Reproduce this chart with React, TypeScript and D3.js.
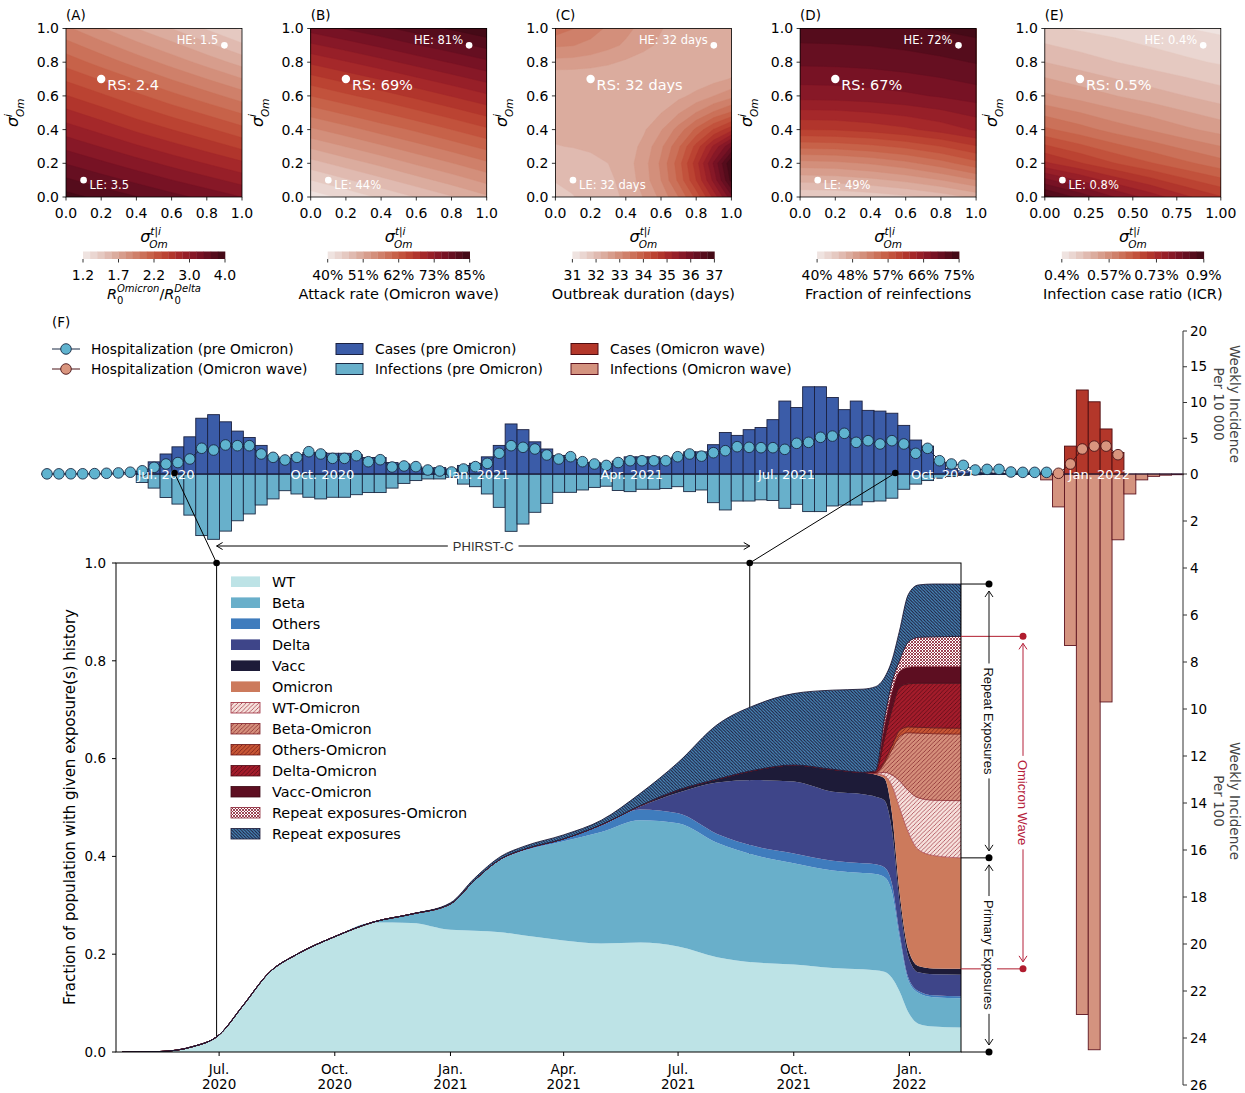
import React, { useEffect, useRef } from 'react';
import * as d3 from 'd3';

const W = 1245;
const H = 1093;
const FONT = "'DejaVu Sans', Verdana, sans-serif";
const ANNOT_FONT = "'Liberation Sans', Arial, sans-serif";

// ---------------- (A)-(E) sensitivity surfaces ----------------
// rows: sigma^i_Om = 1.0 (top) -> 0.0 (bottom); columns: sigma^{t|i}_Om = 0 -> 1
const gridR0 = [
  [1.92, 1.81, 1.70, 1.60, 1.49, 1.38],
  [2.16, 2.06, 1.96, 1.86, 1.76, 1.66],
  [2.53, 2.39, 2.24, 2.13, 2.04, 1.95],
  [2.92, 2.79, 2.65, 2.52, 2.39, 2.25],
  [3.39, 3.24, 3.09, 2.95, 2.83, 2.71],
  [3.88, 3.74, 3.61, 3.47, 3.34, 3.20],
];
const gridAttack = [
  [76.4, 78.0, 79.6, 81.3, 82.9, 84.5],
  [69.0, 70.6, 72.2, 73.9, 75.6, 77.3],
  [62.0, 63.7, 65.3, 67.0, 68.7, 70.4],
  [55.0, 56.7, 58.5, 60.2, 62.0, 63.8],
  [47.9, 49.8, 51.6, 53.5, 55.3, 57.2],
  [40.9, 42.8, 44.8, 46.7, 48.6, 50.6],
];
// finer sampling (step 0.1) because this surface is strongly curved
const gridDuration = [
  [33.58, 33.41, 33.23, 33.05, 32.88, 32.70, 32.52, 32.35, 32.26, 32.26, 32.26],
  [33.14, 33.11, 33.02, 32.89, 32.75, 32.60, 32.43, 32.27, 32.26, 32.26, 32.26],
  [32.70, 32.68, 32.63, 32.55, 32.45, 32.34, 32.26, 32.26, 32.26, 32.26, 32.30],
  [32.26, 32.26, 32.26, 32.26, 32.26, 32.26, 32.26, 32.27, 32.30, 32.40, 32.52],
  [32.26, 32.26, 32.26, 32.26, 32.26, 32.26, 32.30, 32.42, 32.59, 32.80, 33.00],
  [32.26, 32.26, 32.26, 32.26, 32.26, 32.31, 32.49, 32.77, 33.11, 33.45, 33.75],
  [32.26, 32.26, 32.26, 32.26, 32.28, 32.45, 32.77, 33.22, 33.77, 34.32, 34.80],
  [32.19, 32.21, 32.24, 32.26, 32.33, 32.58, 33.03, 33.64, 34.41, 35.27, 36.10],
  [32.06, 32.07, 32.13, 32.20, 32.36, 32.66, 33.16, 33.86, 34.76, 35.85, 37.00],
  [31.92, 31.95, 32.03, 32.13, 32.31, 32.63, 33.10, 33.77, 34.60, 35.60, 36.80],
  [31.78, 31.89, 32.00, 32.10, 32.25, 32.51, 32.88, 33.40, 34.10, 35.00, 36.00],
];
const gridReinf = [
  [72.48, 72.55, 72.70, 72.98, 73.38, 73.85],
  [69.96, 70.03, 70.21, 70.54, 70.97, 71.51],
  [66.72, 66.79, 67.04, 67.44, 67.98, 68.66],
  [60.60, 60.74, 61.25, 62.04, 63.12, 64.45],
  [50.88, 51.10, 51.78, 52.86, 54.41, 56.39],
  [43.20, 43.33, 43.78, 44.48, 45.44, 46.82],
];
const gridIcr = [
  [0.456, 0.448, 0.441, 0.433, 0.426, 0.420],
  [0.502, 0.489, 0.477, 0.466, 0.456, 0.448],
  [0.558, 0.543, 0.528, 0.515, 0.502, 0.489],
  [0.631, 0.612, 0.592, 0.576, 0.558, 0.543],
  [0.727, 0.700, 0.674, 0.652, 0.631, 0.612],
  [0.885, 0.841, 0.797, 0.762, 0.727, 0.700],
];

const cbTicksR0 = [1.2, 1.7, 2.2, 3.0, 4.0];
const cbLabelsR0 = ['1.2', '1.7', '2.2', '3.0', '4.0'];
const cbTicksAttack = [40, 51, 62, 73, 85];
const cbTicksDuration = [31, 32, 33, 34, 35, 36, 37];
const cbTicksReinf = [40, 48, 57, 66, 75];
const cbTicksIcr = [0.4, 0.57, 0.73, 0.9];

const scenarioNames = ['LE', 'RS', 'HE'];
const scenarioPoints = [[0.1, 0.1], [0.2, 0.7], [0.9, 0.9]];
const scenarioR0 = ['3.5', '2.4', '1.5'];
const scenarioAttack = ['44%', '69%', '81%'];
const scenarioDuration = ['32 days', '32 days', '32 days'];
const scenarioReinf = ['49%', '67%', '72%'];
const scenarioIcr = ['0.8%', '0.5%', '0.4%'];

const ampStops = ['#f1e9e7', '#e7d0ca', '#ddb3a7', '#d59683', '#cd7861', '#c55a41',
  '#b73b2d', '#9f2229', '#7f1426', '#5d0d1f', '#3d0914'];

// ---------------- (F) weekly incidence ----------------
const weekZero = '2020-04-22';
const hospPreFirstWeek = 0;
const hospPre = [
  0.02, 0.02, 0.03, 0.03, 0.05, 0.1, 0.15, 0.25, 0.45, 0.93,
  1.4, 1.6, 2.1, 3.6, 3.35, 4.06, 3.96, 3.96, 2.8, 2.33,
  1.96, 2.33, 3.12, 2.8, 2.19, 2.19, 2.56, 1.72, 2.0, 0.98,
  1.12, 1.03, 0.56, 0.42, 0.28, 0.7, 1.03, 1.49, 2.9, 3.96,
  3.73, 3.5, 2.66, 2.1, 2.42, 1.72, 1.4, 1.2, 1.6, 1.86,
  1.86, 1.86, 1.86, 2.42, 2.8, 2.5, 2.98, 3.26, 3.82, 3.73,
  3.68, 3.68, 3.45, 4.29, 4.43, 5.13, 5.3, 5.69, 4.43, 4.66,
  4.2, 4.66, 4.2, 2.89, 3.59, 1.86, 1.4, 1.21, 0.56, 0.65,
  0.65, 0.28, 0.23, 0.23, 0.23,
];
const preFirstWeek = 8;
const casesPre = [
  0.4, 1.7, 2.8, 3.8, 5.2, 7.8, 8.3, 7.3, 6.0, 5.1,
  4.0, 2.4, 2.1, 2.7, 3.0, 3.0, 2.9, 2.9, 2.7, 2.3,
  2.3, 1.6, 1.4, 1.0, 0.8, 0.9, 0.7, 1.2, 1.5, 2.4,
  4.0, 7.0, 6.2, 4.5, 3.5, 2.6, 2.1, 1.6, 1.6, 1.4,
  1.8, 2.4, 2.4, 2.4, 2.2, 2.4, 3.1, 3.1, 4.1, 5.8,
  5.4, 6.2, 6.5, 7.6, 10.2, 9.3, 12.2, 12.2, 10.7, 9.0,
  10.2, 8.9, 8.8, 8.5, 6.8, 4.75, 3.9, 1.6, 0.8, 0.45,
  0.28, 0.15, 0.1, 0.08, 0.06, 0.05,
];
const infectionsPre = [
  0.36, 0.6, 1.0, 1.28, 1.75, 2.62, 2.78, 2.43, 1.99, 1.7,
  1.32, 1.06, 0.71, 0.85, 0.99, 1.06, 0.99, 0.99, 0.88, 0.79,
  0.79, 0.6, 0.4, 0.28, 0.21, 0.21, 0.14, 0.43, 0.54, 0.85,
  1.42, 2.44, 2.13, 1.63, 1.25, 0.78, 0.78, 0.68, 0.57, 0.52,
  0.7, 0.75, 0.65, 0.65, 0.62, 0.54, 0.75, 0.68, 1.22, 1.53,
  1.15, 1.15, 1.1, 1.13, 1.46, 1.29, 1.6, 1.6, 1.36, 1.32,
  1.32, 1.18, 1.15, 1.03, 0.65, 0.43, 0.28, 0.18, 0.11, 0.06,
  0.03, 0.02, 0.02, 0.01, 0.01, 0.01,
];
const hospOmiFirstWeek = 85;
const hospOmi = [0.1, 1.4, 3.5, 3.9, 3.9, 2.7];
const casesOmiFirstWeek = 86;
const casesOmi = [3.9, 11.75, 10.1, 6.3, 3.0];
const infOmiFirstWeek = 84;
const infectionsOmi = [0.25, 1.4, 7.3, 23.0, 24.5, 9.7, 2.8, 0.85, 0.25, 0.1, 0.05, 0.03];

const incidenceTicksUp = [0, 5, 10, 15, 20];
const incidenceTicksDown = [2, 4, 6, 8, 10, 12, 14, 16, 18, 20, 22, 24, 26];
const quarterTicks = ['2020-07-01', '2020-10-01', '2021-01-01', '2021-04-01', '2021-07-01', '2021-10-01', '2022-01-01'];
const phirstWindow = ['2020-06-29', '2021-08-27'];

// ---------------- (F) exposure history (fraction of population) ----------------
const exposureDates = [
  '2020-04-15', '2020-05-15', '2020-06-10', '2020-07-01', '2020-07-20', '2020-08-10', '2020-09-01', '2020-10-01', '2020-11-01', '2020-12-01',
  '2021-01-01', '2021-01-20', '2021-02-10', '2021-03-01', '2021-04-01', '2021-05-01', '2021-06-01', '2021-07-01', '2021-08-01', '2021-09-01',
  '2021-10-01', '2021-11-01', '2021-11-25', '2021-12-05', '2021-12-12', '2021-12-18', '2021-12-24', '2021-12-31', '2022-01-08', '2022-01-20', '2022-02-11',
];
const expWT = [0, 0.001, 0.011, 0.035, 0.095, 0.163, 0.2, 0.236, 0.265, 0.264,
  0.25, 0.248, 0.245, 0.238, 0.228, 0.222, 0.224, 0.216, 0.194, 0.183,
  0.179, 0.172, 0.169, 0.167, 0.164, 0.152, 0.125, 0.082, 0.058, 0.052, 0.05];
const expBeta = [0, 0, 0, 0, 0, 0, 0, 0, 0.001, 0.017,
  0.052, 0.102, 0.148, 0.174, 0.203, 0.228, 0.25, 0.252, 0.234, 0.219,
  0.207, 0.199, 0.197, 0.197, 0.194, 0.176, 0.11, 0.065, 0.063, 0.06, 0.06];
const expOthers = [0, 0, 0, 0, 0, 0, 0, 0, 0, 0.001,
  0.001, 0.001, 0.002, 0.003, 0.005, 0.013, 0.022, 0.02, 0.018, 0.018,
  0.02, 0.02, 0.02, 0.02, 0.02, 0.017, 0.01, 0.006, 0.004, 0.004, 0.004];
const expDelta = [0, 0, 0, 0, 0, 0, 0, 0, 0, 0,
  0, 0, 0, 0, 0, 0.002, 0.006, 0.042, 0.105, 0.136,
  0.147, 0.141, 0.141, 0.138, 0.137, 0.11, 0.065, 0.043, 0.038, 0.043, 0.044];
const expVacc = [0, 0, 0, 0, 0, 0, 0, 0, 0, 0,
  0, 0, 0, 0, 0, 0, 0.002, 0.006, 0.007, 0.021,
  0.034, 0.046, 0.045, 0.045, 0.045, 0.035, 0.02, 0.014, 0.013, 0.012, 0.012];
const expOmicron = [0, 0, 0, 0, 0, 0, 0, 0, 0, 0,
  0, 0, 0, 0, 0, 0, 0, 0, 0, 0,
  0, 0, 0, 0.002, 0.005, 0.055, 0.17, 0.24, 0.238, 0.231, 0.227];
const expWTOm = [0, 0, 0, 0, 0, 0, 0, 0, 0, 0,
  0, 0, 0, 0, 0, 0, 0, 0, 0, 0,
  0, 0, 0, 0.001, 0.007, 0.022, 0.055, 0.085, 0.106, 0.113, 0.117];
const expBetaOm = [0, 0, 0, 0, 0, 0, 0, 0, 0, 0,
  0, 0, 0, 0, 0, 0, 0, 0, 0, 0,
  0, 0, 0, 0.001, 0.018, 0.051, 0.09, 0.118, 0.132, 0.136, 0.136];
const expOthersOm = [0, 0, 0, 0, 0, 0, 0, 0, 0, 0,
  0, 0, 0, 0, 0, 0, 0, 0, 0, 0,
  0, 0, 0, 0.001, 0.004, 0.008, 0.012, 0.012, 0.012, 0.012, 0.012];
const expDeltaOm = [0, 0, 0, 0, 0, 0, 0, 0, 0, 0,
  0, 0, 0, 0, 0, 0, 0, 0, 0, 0,
  0, 0, 0, 0.001, 0.046, 0.074, 0.088, 0.088, 0.09, 0.091, 0.092];
const expVaccOm = [0, 0, 0, 0, 0, 0, 0, 0, 0, 0,
  0, 0, 0, 0, 0, 0, 0, 0, 0, 0,
  0, 0, 0, 0.001, 0.025, 0.035, 0.033, 0.034, 0.034, 0.034, 0.034];
const expRepeatOm = [0, 0, 0, 0, 0, 0, 0, 0, 0, 0,
  0, 0, 0, 0, 0, 0, 0, 0, 0, 0,
  0, 0, 0, 0.001, 0.015, 0.02, 0.022, 0.051, 0.06, 0.061, 0.062];
const expRepeat = [0, 0, 0, 0, 0, 0, 0, 0, 0, 0,
  0.002, 0.004, 0.005, 0.006, 0.008, 0.009, 0.025, 0.056, 0.111, 0.133,
  0.146, 0.162, 0.17, 0.172, 0.085, 0.045, 0.06, 0.097, 0.107, 0.108, 0.107];

const layerNames = ['WT', 'Beta', 'Others', 'Delta', 'Vacc', 'Omicron', 'WT-Omicron', 'Beta-Omicron',
  'Others-Omicron', 'Delta-Omicron', 'Vacc-Omicron', 'Repeat exposures-Omicron', 'Repeat exposures'];
const layerSeries = [expWT, expBeta, expOthers, expDelta, expVacc, expOmicron, expWTOm, expBetaOm,
  expOthersOm, expDeltaOm, expVaccOm, expRepeatOm, expRepeat];

const layerStyles: any[] = [
  { fill: '#bde3e6' },
  { fill: '#69afca' },
  { fill: '#3f7cbd' },
  { fill: '#3e4589' },
  { fill: '#1d1b38' },
  { fill: '#cc7a5c' },
  { hatch: '/', bg: '#f6e1dc', fg: '#9c2a3a', size: 4.2, sw: 0.7 },
  { hatch: '/', bg: '#d58f7b', fg: '#7e1e27', size: 4.2, sw: 0.7 },
  { hatch: '/', bg: '#c75635', fg: '#6d1616', size: 4.2, sw: 0.7 },
  { hatch: '/', bg: '#a41c2b', fg: '#4e0a15', size: 4.2, sw: 0.7 },
  { fill: '#5d0e21', edge: '#3d0914' },
  { hatch: 'x', bg: '#ffffff', fg: '#8b2336', size: 3, sw: 0.85 },
  { hatch: '\\', bg: '#4a8fc3', fg: '#1d1b38', size: 3.2, sw: 1.0 },
];

const parse = d3.timeParse('%Y-%m-%d') as (s: string) => Date;

function addHatch(defs: any, id: string, kind: string, bg: string, fg: string, size: number, sw: number) {
  const p = defs.append('pattern').attr('id', id).attr('patternUnits', 'userSpaceOnUse')
    .attr('width', size).attr('height', size);
  p.append('rect').attr('width', size).attr('height', size).attr('fill', bg);
  const s = size;
  const fwd = `M0,${s} L${s},0 M${-s / 2},${s / 2} L${s / 2},${-s / 2} M${s / 2},${1.5 * s} L${1.5 * s},${s / 2}`;
  const back = `M0,0 L${s},${s} M${-s / 2},${s / 2} L${s / 2},${1.5 * s} M${s / 2},${-s / 2} L${1.5 * s},${s / 2}`;
  const d = kind === '/' ? fwd : kind === '\\' ? back : `${fwd} ${back}`;
  p.append('path').attr('d', d).attr('stroke', fg).attr('stroke-width', sw).attr('fill', 'none');
}

// text with a white box behind it, used on annotation arrows
function boxedText(g: any, x: number, y: number, label: string, color: string, vertical: boolean) {
  const t = g.append('text')
    .attr('transform', `translate(${x},${y})${vertical ? ' rotate(90)' : ''}`)
    .attr('text-anchor', 'middle').attr('dy', '0.35em')
    .attr('font-family', ANNOT_FONT).attr('font-size', 13).attr('fill', color)
    .text(label);
  const len = (t.node() as SVGTextElement).getComputedTextLength();
  const r = g.insert('rect', () => t.node()).attr('fill', '#fff');
  if (vertical) r.attr('x', x - 8).attr('y', y - len / 2 - 4).attr('width', 16).attr('height', len + 8);
  else r.attr('x', x - len / 2 - 5).attr('y', y - 8).attr('width', len + 10).attr('height', 16);
}

function openHead(g: any, x: number, y: number, dir: string, color: string, len = 6, half = 4) {
  let d = '';
  if (dir === 'up') d = `M${x - half},${y + len} L${x},${y} L${x + half},${y + len}`;
  if (dir === 'down') d = `M${x - half},${y - len} L${x},${y} L${x + half},${y - len}`;
  if (dir === 'left') d = `M${x + len},${y - half} L${x},${y} L${x + len},${y + half}`;
  if (dir === 'right') d = `M${x - len},${y - half} L${x},${y} L${x - len},${y + half}`;
  g.append('path').attr('d', d).attr('fill', 'none').attr('stroke', color).attr('stroke-width', 1);
}

function vArrow(g: any, x: number, yTop: number, yBot: number, label: string, color: string) {
  g.append('line').attr('x1', x).attr('x2', x).attr('y1', yTop).attr('y2', yBot)
    .attr('stroke', color).attr('stroke-width', 1);
  openHead(g, x, yTop, 'up', color);
  openHead(g, x, yBot, 'down', color);
  boxedText(g, x, (yTop + yBot) / 2, label, color, true);
}

const App: React.FC = () => {
  const svgRef = useRef<SVGSVGElement>(null);

  useEffect(() => {
    if (!svgRef.current) return;
    const svg = d3.select(svgRef.current);
    svg.selectAll('*').remove();
    svg.append('rect').attr('width', W).attr('height', H).attr('fill', '#fff');
    const defs = svg.append('defs');

    // ================= Panels A-E =================
    const cmap = d3.piecewise(d3.interpolateRgb, ampStops);
    const nBands = 20;
    const pct = (v: number) => `${v}%`;
    const panels = [
      { tag: '(A)', grid: gridR0, ticks: cbTicksR0, labels: cbLabelsR0, vals: scenarioR0, title: '' },
      { tag: '(B)', grid: gridAttack, ticks: cbTicksAttack, labels: cbTicksAttack.map(pct), vals: scenarioAttack, title: 'Attack rate (Omicron wave)' },
      { tag: '(C)', grid: gridDuration, ticks: cbTicksDuration, labels: cbTicksDuration.map(String), vals: scenarioDuration, title: 'Outbreak duration (days)' },
      { tag: '(D)', grid: gridReinf, ticks: cbTicksReinf, labels: cbTicksReinf.map(pct), vals: scenarioReinf, title: 'Fraction of reinfections' },
      { tag: '(E)', grid: gridIcr, ticks: cbTicksIcr, labels: cbTicksIcr.map(pct), vals: scenarioIcr, title: 'Infection case ratio (ICR)' },
    ];

    panels.forEach((p, i) => {
      const left = 66 + 244.7 * i;
      const top = 28.5;
      const w = 176;
      const h = 168.5;
      const g = svg.append('g');
      const sx = d3.scaleLinear().domain([0, 1]).range([left, left + w]);
      const sy = d3.scaleLinear().domain([0, 1]).range([top + h, top]);
      const toT = d3.scaleLinear().domain(p.ticks).range(p.ticks.map((_, j) => j / (p.ticks.length - 1))).clamp(true);

      const clipId = `hm-clip-${i}`;
      defs.append('clipPath').attr('id', clipId)
        .append('rect').attr('x', left).attr('y', top).attr('width', w).attr('height', h);

      const nr = p.grid.length;
      const nc = p.grid[0].length;
      const padded: number[] = [];
      [p.grid[0], ...p.grid, p.grid[nr - 1]].forEach((row) => {
        [row[0], ...row, row[nc - 1]].forEach((v) => padded.push(toT(v)));
      });
      const contours = d3.contours().size([nc + 2, nr + 2])
        .thresholds(d3.range(nBands).map((b) => b / nBands))(padded);
      const proj = d3.geoTransform({
        point(x: number, y: number) {
          (this as any).stream.point(left + ((x - 1.5) / (nc - 1)) * w, top + ((y - 1.5) / (nr - 1)) * h);
        },
      });
      const path = d3.geoPath(proj as any);
      const hg = g.append('g').attr('clip-path', `url(#${clipId})`);
      hg.append('rect').attr('x', left).attr('y', top).attr('width', w).attr('height', h)
        .attr('fill', cmap(0.5 / nBands));
      hg.selectAll('path').data(contours).join('path')
        .attr('d', (c: any) => path(c))
        .attr('fill', (c: any) => cmap((Math.round(c.value * nBands) + 0.5) / nBands))
        .attr('stroke', (c: any) => cmap((Math.round(c.value * nBands) + 0.5) / nBands))
        .attr('stroke-width', 0.4);
      g.append('rect').attr('x', left).attr('y', top).attr('width', w).attr('height', h)
        .attr('fill', 'none').attr('stroke', '#000').attr('stroke-width', 0.8);

      // axes
      const yTicks = [0, 0.2, 0.4, 0.6, 0.8, 1.0];
      const xTicks = i === 4 ? [0, 0.25, 0.5, 0.75, 1] : yTicks;
      const xFmt = i === 4 ? d3.format('.2f') : d3.format('.1f');
      yTicks.forEach((v) => {
        g.append('line').attr('x1', left - 3.5).attr('x2', left).attr('y1', sy(v)).attr('y2', sy(v)).attr('stroke', '#000').attr('stroke-width', 0.8);
        g.append('text').attr('x', left - 7).attr('y', sy(v)).attr('dy', '0.35em').attr('text-anchor', 'end')
          .attr('font-size', 14).text(d3.format('.1f')(v));
      });
      xTicks.forEach((v) => {
        g.append('line').attr('x1', sx(v)).attr('x2', sx(v)).attr('y1', top + h).attr('y2', top + h + 3.5).attr('stroke', '#000').attr('stroke-width', 0.8);
        g.append('text').attr('x', sx(v)).attr('y', 217.5).attr('text-anchor', 'middle').attr('font-size', 14).text(xFmt(v));
      });
      g.append('text').attr('x', left).attr('y', 20).attr('font-size', 13.5).text(p.tag);

      // sigma^i_Om (y) and sigma^{t|i}_Om (x); sup and sub kept on separate lines
      const yl = g.append('text').attr('transform', `translate(${left - 48},${top + h / 2}) rotate(-90)`)
        .attr('text-anchor', 'middle').attr('font-style', 'italic');
      yl.append('tspan').attr('font-size', 16).text('σ');
      yl.append('tspan').attr('font-size', 10.5).attr('dy', -6.5).text('i');
      yl.append('tspan').attr('font-size', 10.5).attr('dx', -3).attr('dy', 12.5).text('Om');
      const xl = g.append('text').attr('x', left + w / 2).attr('y', 242)
        .attr('text-anchor', 'middle').attr('font-style', 'italic');
      xl.append('tspan').attr('font-size', 16).text('σ');
      xl.append('tspan').attr('font-size', 10.5).attr('dy', -7.5).text('t|i');
      xl.append('tspan').attr('font-size', 10.5).attr('dx', -11.5).attr('dy', 13).text('Om');

      // scenario points
      scenarioPoints.forEach(([px, py], j) => {
        const cx = sx(px);
        const cy = sy(py);
        g.append('circle').attr('cx', cx).attr('cy', cy).attr('r', j === 1 ? 4.2 : 3.3).attr('fill', '#fff');
        const label = `${scenarioNames[j]}: ${p.vals[j]}`;
        if (j === 0) g.append('text').attr('x', cx + 6).attr('y', cy + 8.5).attr('font-size', 11.5).attr('fill', '#fff').text(label);
        if (j === 1) g.append('text').attr('x', cx + 6).attr('y', cy + 11).attr('font-size', 14.5).attr('fill', '#fff').text(label);
        if (j === 2) g.append('text').attr('x', cx - 6).attr('y', cy - 1.5).attr('text-anchor', 'end').attr('font-size', 11.5).attr('fill', '#fff').text(label);
      });

      // colorbar
      const cbL = left + 17;
      const cbW = 142;
      const cbY = 251.5;
      const cbH = 7.5;
      d3.range(nBands).forEach((b) => {
        g.append('rect').attr('x', cbL + (b * cbW) / nBands).attr('y', cbY).attr('width', cbW / nBands + 0.3).attr('height', cbH)
          .attr('fill', cmap((b + 0.5) / nBands));
      });
      p.labels.forEach((lab, j) => {
        const x = cbL + (j / (p.labels.length - 1)) * cbW;
        g.append('line').attr('x1', x).attr('x2', x).attr('y1', cbY + cbH).attr('y2', cbY + cbH + 3.5).attr('stroke', '#000').attr('stroke-width', 0.8);
        g.append('text').attr('x', x).attr('y', 280).attr('text-anchor', 'middle').attr('font-size', 14).text(lab);
      });
      if (p.title) {
        g.append('text').attr('x', left + w / 2).attr('y', 299).attr('text-anchor', 'middle').attr('font-size', 14.5).text(p.title);
      } else {
        const t = g.append('text').attr('x', left + w / 2).attr('y', 299).attr('text-anchor', 'middle');
        t.append('tspan').attr('font-size', 14.5).attr('font-style', 'italic').text('R');
        t.append('tspan').attr('font-size', 10).attr('dy', 5).text('0');
        t.append('tspan').attr('font-size', 10).attr('font-style', 'italic').attr('dx', -6.5).attr('dy', -12.5).text('Omicron');
        t.append('tspan').attr('font-size', 14.5).attr('dy', 7.5).text('/');
        t.append('tspan').attr('font-size', 14.5).attr('font-style', 'italic').text('R');
        t.append('tspan').attr('font-size', 10).attr('dy', 5).text('0');
        t.append('tspan').attr('font-size', 10).attr('font-style', 'italic').attr('dx', -6.5).attr('dy', -12.5).text('Delta');
      }
    });

    // ================= Panel F: weekly incidence =================
    const wk0 = parse(weekZero);
    const weekDate = (k: number) => d3.timeDay.offset(wk0, 7 * k);
    const histX = d3.scaleTime().domain([wk0, parse('2022-01-01')]).range([47, 1099.3]);
    const barW = histX(weekDate(1)) - histX(wk0);
    const yUp = d3.scaleLinear().domain([0, 20]).range([474, 331]);
    const yDown = d3.scaleLinear().domain([0, 26]).range([474, 1085]);
    const hg = svg.append('g');

    const bars = (vals: number[], first: number, up: boolean, fill: string, stroke: string) => {
      const sc = up ? yUp : yDown;
      hg.append('g').selectAll('rect').data(vals).join('rect')
        .attr('x', (_: any, i: number) => histX(weekDate(first + i)) - barW / 2)
        .attr('y', (v: number) => (up ? sc(v) : sc(0)))
        .attr('width', barW)
        .attr('height', (v: number) => Math.abs(sc(v) - sc(0)))
        .attr('fill', fill).attr('stroke', stroke).attr('stroke-width', 0.9);
    };
    bars(infectionsPre, preFirstWeek, false, '#68b0cb', '#1b2a44');
    bars(casesPre, preFirstWeek, true, '#3b5ca8', '#1b2140');
    bars(infectionsOmi, infOmiFirstWeek, false, '#d4937f', '#5e1420');
    bars(casesOmi, casesOmiFirstWeek, true, '#b3372a', '#4e0c10');
    hg.append('line').attr('x1', 41).attr('x2', 1183).attr('y1', 474).attr('y2', 474)
      .attr('stroke', '#1b1d3a').attr('stroke-width', 1);

    const hospLine = (vals: number[], first: number, fill: string, stroke: string) => {
      const line = d3.line<number>().x((_, i) => histX(weekDate(first + i))).y((v) => yUp(v));
      hg.append('path').attr('d', line(vals)).attr('fill', 'none').attr('stroke', stroke).attr('stroke-width', 1);
      hg.append('g').selectAll('circle').data(vals).join('circle')
        .attr('cx', (_: any, i: number) => histX(weekDate(first + i)))
        .attr('cy', (v: number) => yUp(v))
        .attr('r', 5.3).attr('fill', fill).attr('stroke', stroke).attr('stroke-width', 0.9);
    };
    hospLine(hospPre, hospPreFirstWeek, '#5fb3cf', '#1b2a44');
    hospLine(hospOmi, hospOmiFirstWeek, '#d9957e', '#4a1418');

    const fmtQ = d3.timeFormat('%b. %Y');
    quarterTicks.forEach((q) => {
      hg.append('text').attr('x', histX(parse(q))).attr('y', 474).attr('dy', '0.35em')
        .attr('text-anchor', 'middle').attr('font-size', 13).attr('fill', '#fff').text(fmtQ(parse(q)));
    });

    // right axis
    hg.append('line').attr('x1', 1183).attr('x2', 1183).attr('y1', yUp(20)).attr('y2', yDown(26)).attr('stroke', '#333').attr('stroke-width', 1);
    const rTick = (y: number, lab: string) => {
      hg.append('line').attr('x1', 1183).attr('x2', 1187).attr('y1', y).attr('y2', y).attr('stroke', '#333');
      hg.append('text').attr('x', 1190).attr('y', y).attr('dy', '0.35em').attr('font-size', 13.5).text(lab);
    };
    incidenceTicksUp.forEach((v) => rTick(yUp(v), String(v)));
    incidenceTicksDown.forEach((v) => rTick(yDown(v), String(v)));
    const rLabel = (cy: number, line2: string) => {
      hg.append('text').attr('transform', `translate(1235,${cy}) rotate(90)`).attr('text-anchor', 'middle')
        .attr('dy', '0.35em').attr('font-size', 13.5).attr('fill', '#444').text('Weekly Incidence');
      hg.append('text').attr('transform', `translate(1219,${cy}) rotate(90)`).attr('text-anchor', 'middle')
        .attr('dy', '0.35em').attr('font-size', 13.5).attr('fill', '#444').text(line2);
    };
    rLabel(404, 'Per 10 000');
    rLabel(801, 'Per 100');

    // legend (F, top)
    svg.append('text').attr('x', 52).attr('y', 327).attr('font-size', 13.5).text('(F)');
    const lg = svg.append('g').attr('font-size', 13.8);
    [['#5fb3cf', '#1b2a44', 'Hospitalization (pre Omicron)'], ['#d9957e', '#4a1418', 'Hospitalization (Omicron wave)']]
      .forEach(([f, s, t], j) => {
        const y = 349 + 20 * j;
        lg.append('line').attr('x1', 52).attr('x2', 80).attr('y1', y).attr('y2', y).attr('stroke', s);
        lg.append('circle').attr('cx', 66).attr('cy', y).attr('r', 5.3).attr('fill', f).attr('stroke', s).attr('stroke-width', 0.9);
        lg.append('text').attr('x', 91).attr('y', y).attr('dy', '0.35em').text(t);
      });
    [[336, '#3b5ca8', '#1b2140', 'Cases (pre Omicron)'], [336, '#68b0cb', '#1b2a44', 'Infections (pre Omicron)'],
      [571, '#b3372a', '#4e0c10', 'Cases (Omicron wave)'], [571, '#d4937f', '#5e1420', 'Infections (Omicron wave)']]
      .forEach(([x, f, s, t], j) => {
        const y = 349 + 20 * (j % 2);
        lg.append('rect').attr('x', x).attr('y', y - 5.5).attr('width', 27).attr('height', 11)
          .attr('fill', f).attr('stroke', s).attr('stroke-width', 1);
        lg.append('text').attr('x', (x as number) + 39).attr('y', y).attr('dy', '0.35em').text(t);
      });

    // ================= Panel F: exposure history =================
    const xMain = d3.scaleTime().domain([parse('2020-04-10'), parse('2022-02-11')]).range([116, 961]);
    const yMain = d3.scaleLinear().domain([0, 1]).range([1052, 563]);
    const mg = svg.append('g');

    layerStyles.forEach((st, j) => {
      if (st.hatch) addHatch(defs, `hatch-${j}`, st.hatch, st.bg, st.fg, st.size, st.sw);
    });
    const fillOf = (j: number) => (layerStyles[j].hatch ? `url(#hatch-${j})` : layerStyles[j].fill);
    const edgeOf = (j: number) => (layerStyles[j].hatch ? layerStyles[j].fg : layerStyles[j].edge || 'none');

    // PHIRST-C window lines (drawn under the areas)
    const phirst = phirstWindow.map(parse);
    phirst.forEach((d) => {
      mg.append('line').attr('x1', xMain(d)).attr('x2', xMain(d)).attr('y1', 563).attr('y2', 1052)
        .attr('stroke', '#000').attr('stroke-width', 1);
    });

    const keys = layerNames.map((_, j) => `k${j}`);
    const rows = exposureDates.map((d, i) => {
      const r: any = { date: parse(d) };
      keys.forEach((k, j) => { r[k] = layerSeries[j][i]; });
      return r;
    });
    const stacked = d3.stack().keys(keys)(rows);
    const area = d3.area<any>()
      .x((d) => xMain(d.data.date))
      .y0((d) => yMain(d[0]))
      .y1((d) => yMain(d[1]))
      .curve(d3.curveMonotoneX);
    defs.append('clipPath').attr('id', 'main-clip').append('rect').attr('x', 116).attr('y', 563).attr('width', 845).attr('height', 489);
    const ag = mg.append('g').attr('clip-path', 'url(#main-clip)');
    stacked.forEach((s: any, j: number) => {
      ag.append('path').attr('d', area(s)).attr('fill', fillOf(j))
        .attr('stroke', edgeOf(j)).attr('stroke-width', j === 12 ? 0.9 : 0.6);
    });
    mg.append('rect').attr('x', 116).attr('y', 563).attr('width', 845).attr('height', 489)
      .attr('fill', 'none').attr('stroke', '#000').attr('stroke-width', 1);

    // axes
    [0, 0.2, 0.4, 0.6, 0.8, 1.0].forEach((v) => {
      mg.append('line').attr('x1', 112).attr('x2', 116).attr('y1', yMain(v)).attr('y2', yMain(v)).attr('stroke', '#000');
      mg.append('text').attr('x', 106).attr('y', yMain(v)).attr('dy', '0.35em').attr('text-anchor', 'end')
        .attr('font-size', 13.5).text(d3.format('.1f')(v));
    });
    quarterTicks.forEach((q) => {
      const d = parse(q);
      const x = xMain(d);
      mg.append('line').attr('x1', x).attr('x2', x).attr('y1', 1052).attr('y2', 1056).attr('stroke', '#000');
      mg.append('text').attr('x', x).attr('y', 1074).attr('text-anchor', 'middle').attr('font-size', 13.5).text(`${d3.timeFormat('%b')(d)}.`);
      mg.append('text').attr('x', x).attr('y', 1089).attr('text-anchor', 'middle').attr('font-size', 13.5).text(d3.timeFormat('%Y')(d));
    });
    mg.append('text').attr('transform', 'translate(70,807) rotate(-90)').attr('text-anchor', 'middle')
      .attr('dy', '0.35em').attr('font-size', 15).text('Fraction of population with given exposure(s) history');

    // legend
    layerNames.forEach((name, j) => {
      const y = 581.7 + 21 * j;
      mg.append('rect').attr('x', 231).attr('y', y - 5.3).attr('width', 29).attr('height', 10.6)
        .attr('fill', fillOf(j)).attr('stroke', edgeOf(j)).attr('stroke-width', 0.8);
      mg.append('text').attr('x', 272).attr('y', y).attr('dy', '0.35em').attr('font-size', 14.4).text(name);
    });

    // right-hand annotations
    const last = exposureDates.length - 1;
    const cum = (n: number) => d3.sum(layerSeries.slice(0, n), (s) => s[last]);
    const yTotal = yMain(cum(13));
    const yPrimary = yMain(cum(6));
    const yOmTop = yMain(cum(12));
    const yOmBot = yMain(cum(5));
    const red = '#b01c2e';
    const an = svg.append('g');
    [yOmTop, yOmBot].forEach((y) => {
      an.append('line').attr('x1', 961).attr('x2', 1023).attr('y1', y).attr('y2', y).attr('stroke', red).attr('stroke-width', 1);
      an.append('circle').attr('cx', 1023).attr('cy', y).attr('r', 3.5).attr('fill', red);
    });
    vArrow(an, 1023, yOmTop + 7, yOmBot - 7, 'Omicron Wave', '#b5203a');
    [yTotal, yPrimary, yMain(0)].forEach((y) => {
      an.append('line').attr('x1', 961).attr('x2', 989).attr('y1', y).attr('y2', y).attr('stroke', '#000').attr('stroke-width', 1);
      an.append('circle').attr('cx', 989).attr('cy', y).attr('r', 3.5).attr('fill', '#000');
    });
    vArrow(an, 989, yTotal + 7, yPrimary - 7, 'Repeat Exposures', '#111');
    vArrow(an, 989, yPrimary + 7, yMain(0) - 7, 'Primary Exposures', '#111');

    // PHIRST-C connectors
    const pg = svg.append('g');
    phirst.forEach((d) => {
      const xb = xMain(d);
      const xh = histX(d3.timeDay.offset(d, 7));
      pg.append('line').attr('x1', xb).attr('y1', 563).attr('x2', xh).attr('y2', 473).attr('stroke', '#000').attr('stroke-width', 1);
      pg.append('circle').attr('cx', xb).attr('cy', 563).attr('r', 3.3).attr('fill', '#000');
      pg.append('circle').attr('cx', xh).attr('cy', 473).attr('r', 3.3).attr('fill', '#000');
    });
    const xa = xMain(phirst[0]);
    const xb2 = xMain(phirst[1]);
    pg.append('line').attr('x1', xa).attr('x2', xb2).attr('y1', 546).attr('y2', 546).attr('stroke', '#000').attr('stroke-width', 1);
    openHead(pg, xa, 546, 'left', '#000', 6, 3.5);
    openHead(pg, xb2, 546, 'right', '#000', 6, 3.5);
    boxedText(pg, (xa + xb2) / 2, 546, 'PHIRST-C', '#333', false);
  }, []);

  return (
    <svg
      ref={svgRef}
      width={W}
      height={H}
      fontFamily={FONT}
      style={{ position: 'absolute', left: 0, top: 0, background: '#fff' }}
    />
  );
};

export default App;
